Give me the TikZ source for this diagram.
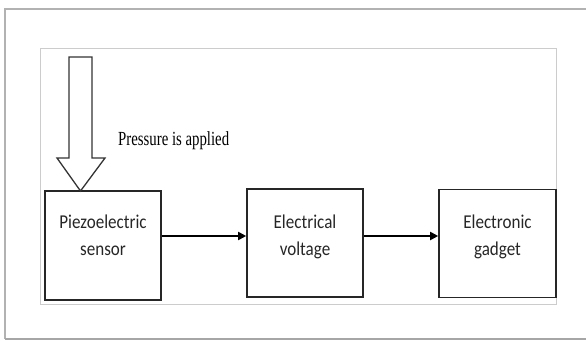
\documentclass[tikz,border=0pt]{standalone}
\usepackage{fontspec}
\usetikzlibrary{arrows.meta,positioning}
\newfontfamily\blockfont[FakeStretch=0.87]{Carlito}
\newfontfamily\notefont[FakeStretch=0.74]{Liberation Serif}

\begin{document}
\begin{tikzpicture}[x=1pt,y=-1pt,
  block/.style={draw=black!85,line width=1.6pt,minimum width=116pt,minimum height=108pt,inner sep=0pt},
  blocktext/.style={font=\blockfont\fontsize{19.6}{27}\selectfont,text=black!85,align=center,inner sep=0pt,anchor=north},
  flow/.style={line width=1.8pt,-{Triangle[length=8pt,width=8pt]}}
]
% page margins
\useasboundingbox (0,0) rectangle (586,342);

% outer frame (open on the right)
\draw[gray!60,line width=1.5pt] (586,9) -- (5,9) -- (5,339);
\draw[gray!70,line width=2.5pt] (5,339) -- (586,339);

% inner frame
\draw[gray!40,line width=1pt] (40,49) rectangle (556,304);

% Blocks
\node[block,minimum height=109pt] (sensor) at (103,245.5) {};
\node[block] (voltage) at (305,243) {};
\node[block,minimum width=117pt] (gadget) at (497.5,243.5) {};

% Block labels
\node[blocktext] (sensortext) at ([yshift=-24pt]sensor.north) {Piezoelectric\\sensor};
\node[blocktext] (voltagetext) at ([yshift=-26pt]voltage.north) {Electrical\\voltage};
\node[blocktext] (gadgettext) at ([yshift=-26pt]gadget.north) {Electronic\\gadget};

% Pressure arrow (hollow)
\draw[black!80,line width=1.3pt,line join=miter] (69,57) -- (69,158) -- (57,158) -- (80.5,191)
  -- (105,158) -- (92,158) -- (92,57) -- cycle;
\node[font=\notefont\fontsize{20}{24}\selectfont,anchor=base west,inner sep=0pt] (pressure) at (118,146) {Pressure is applied};

% Signal path
\coordinate (s1) at ([yshift=9.5pt]sensor.east);
\draw[flow] (s1) -- (s1 -| voltage.west);
\coordinate (s2) at ([yshift=7pt]voltage.east);
\draw[flow] (s2) -- (s2 -| gadget.west);

\end{tikzpicture}
\end{document}
